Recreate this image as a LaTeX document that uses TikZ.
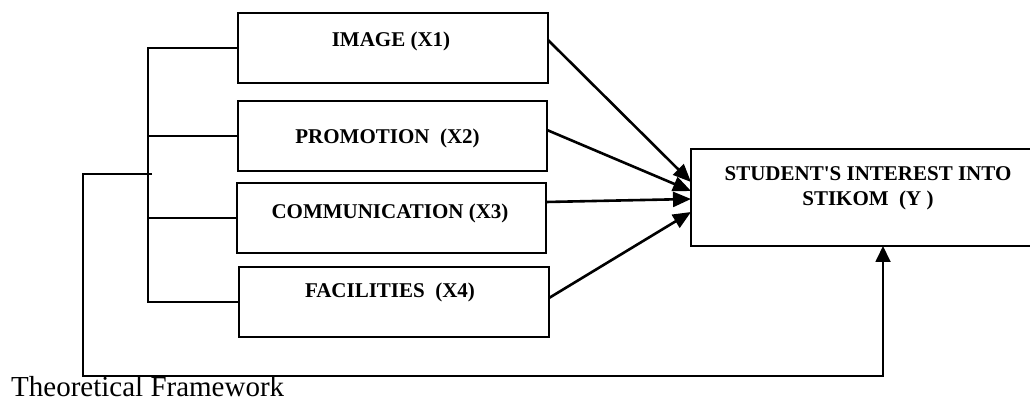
\documentclass[tikz,border=0pt]{standalone}
\usepackage{fontspec}
\newfontfamily\lib{Liberation Serif}
\usetikzlibrary{arrows.meta,calc}
\begin{document}
\begin{tikzpicture}[x=1pt,y=-1pt,
  box/.style={draw, line width=2.1pt, minimum height=70pt, inner sep=0pt, outer sep=0pt},
  lbl/.style={font=\lib\bfseries\fontsize{21}{25}\selectfont, anchor=base, inner sep=0pt},
  wire/.style={line width=1.6pt},
  arr/.style={line width=2.6pt, -{Triangle[length=18pt,width=15pt]}},
  looparr/.style={line width=1.8pt, -{Triangle[length=16pt,width=15pt]}}]
\path[use as bounding box, clip] (0,0) rectangle (1030,403);
% boxes
\node[box, minimum width=310pt] (b1) at (393,48) {};
\node[box, minimum width=309pt] (b2) at (392.5,136) {};
\node[box, minimum width=309pt] (b3) at (391.5,218) {};
\node[box, minimum width=310pt] (b4) at (394,302) {};
\node[box, minimum width=380pt, minimum height=97pt] (y) at (881,197.5) {};
% labels
\node[lbl] (l1) at (391,47) {IMAGE (X1)};
\node[lbl] (l2) at (387.5,144) {PROMOTION~~(X2)};
\node[lbl] (l3) at (390,219) {COMMUNICATION (X3)};
\node[lbl] (l4) at (390,297) {FACILITIES~~(X4)};
\node[lbl] (yl1) at (868,180.7) {STUDENT\char"0027 S INTEREST INTO};
\node[lbl] (yl2) at (868,206) {STIKOM~~(Y )};
\node[font=\lib\fontsize{29}{33}\selectfont, anchor=base west, inner sep=0pt] (cap) at (11,396.7) {Theoretical Framework};
% bracket
\coordinate (brk) at (148,0);
\draw[wire] (b1.west) -- (b1.west -| brk) -- (b4.west -| brk) -- (b4.west);
\draw[wire] (b2.west) -- (b2.west -| brk);
\draw[wire] (b3.west) -- (b3.west -| brk);
% outer loop
\coordinate (j) at (152,174);
\coordinate (corner) at (83,376);
\coordinate (ya) at (883,0);
\draw[looparr] (j) -- (j -| corner) -- (corner) -- (corner -| ya) -- (ya |- y.south);
% arrows
\draw[arr] (b1.east |- 0,40) -- (y.west |- 0,182);
\draw[arr] (b2.east |- 0,130) -- (y.west |- 0,191);
\draw[arr] (b3.east |- 0,202) -- (y.west |- 0,199);
\draw[arr] (b4.east |- 0,298) -- (y.west |- 0,212);
\end{tikzpicture}
\end{document}
